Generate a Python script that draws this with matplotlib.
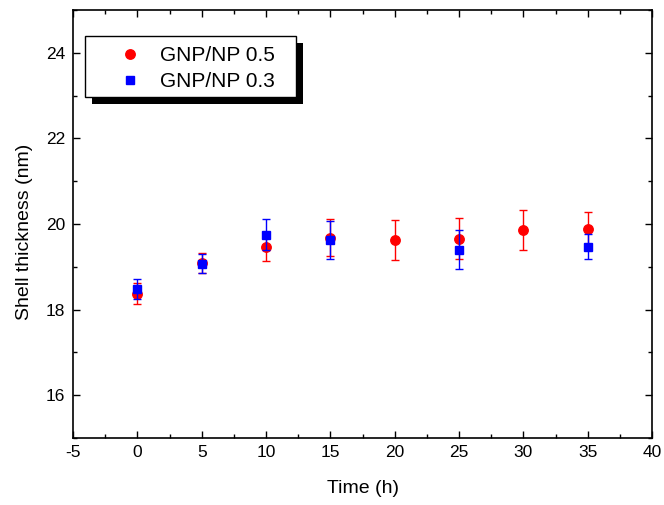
import numpy as np
import matplotlib
matplotlib.use('Agg')
import matplotlib.pyplot as plt
from matplotlib.ticker import MultipleLocator
from matplotlib.patches import Rectangle

## GNP/NP 0.5 (red circles)
t_05   = [0, 5, 10, 15, 20, 25, 30, 35]
th_05  = [18.37, 19.09, 19.47, 19.68, 19.63, 19.66, 19.85, 19.89]
err_05 = [0.24, 0.24, 0.33, 0.43, 0.47, 0.47, 0.47, 0.40]

## GNP/NP 0.3 (blue squares)
t_03   = [0, 5, 10, 15, 25, 35]
th_03  = [18.48, 19.07, 19.75, 19.63, 19.40, 19.47]
err_03 = [0.24, 0.22, 0.37, 0.44, 0.45, 0.30]

plt.rcParams['font.family'] = ['Liberation Sans', 'DejaVu Sans']
plt.rcParams['axes.unicode_minus'] = False

fig = plt.figure(figsize=(6.64, 5.05), dpi=100)
ax = fig.add_axes([0.110, 0.133, 0.872, 0.847])

ax.errorbar(t_05, th_05, yerr=err_05, fmt='o', color='red', ms=6.8,
            elinewidth=1.0, capsize=3, capthick=1.0,
            label='GNP/NP 0.5', zorder=3)
ax.errorbar(t_03, th_03, yerr=err_03, fmt='s', color='blue', ms=5.8,
            elinewidth=1.0, capsize=3, capthick=1.0,
            label='GNP/NP 0.3', zorder=4)

ax.set_xlim(-5, 40)
ax.set_ylim(15, 25)
ax.xaxis.set_major_locator(MultipleLocator(5))
ax.xaxis.set_minor_locator(MultipleLocator(2.5))
ax.yaxis.set_major_locator(MultipleLocator(2))
ax.yaxis.set_minor_locator(MultipleLocator(1))

ax.tick_params(axis='both', which='major', direction='in', top=True, right=True,
               length=5, width=1.0, labelsize=12.5, pad=5.5)
ax.tick_params(axis='both', which='minor', direction='in', top=True, right=True,
               length=3, width=1.0)
for s in ax.spines.values():
    s.set_linewidth(1.2)

ax.set_xlabel('Time (h)', fontsize=14)
ax.set_ylabel('Shell thickness (nm)', fontsize=14)
ax.xaxis.set_label_coords(0.5, -0.098)
ax.yaxis.set_label_coords(-0.069, 0.482)

## legend box with solid drop shadow
W, H = 664.0, 505.0
bx0, by0, bw, bh, off = 85, 36, 211, 61, 7
shadow = Rectangle(((bx0 + off) / W, 1 - (by0 + bh + off) / H), bw / W, bh / H,
                   transform=fig.transFigure, facecolor='black', edgecolor='none', zorder=5)
box = Rectangle((bx0 / W, 1 - (by0 + bh) / H), bw / W, bh / H,
                transform=fig.transFigure, facecolor='white', edgecolor='black',
                linewidth=1.0, zorder=6)
fig.add_artist(shadow)
fig.add_artist(box)

handles, labels = ax.get_legend_handles_labels()
handles = [h[0] for h in handles]
leg = fig.legend(handles, labels, loc='upper left',
                 bbox_to_anchor=(109.2 / W, 1 - 46 / H),
                 fontsize=15, frameon=False, borderpad=0, borderaxespad=0,
                 handlelength=2, handletextpad=0.44, labelspacing=0.35)
leg.set_zorder(7)

fig.savefig('out.png', dpi=100)
